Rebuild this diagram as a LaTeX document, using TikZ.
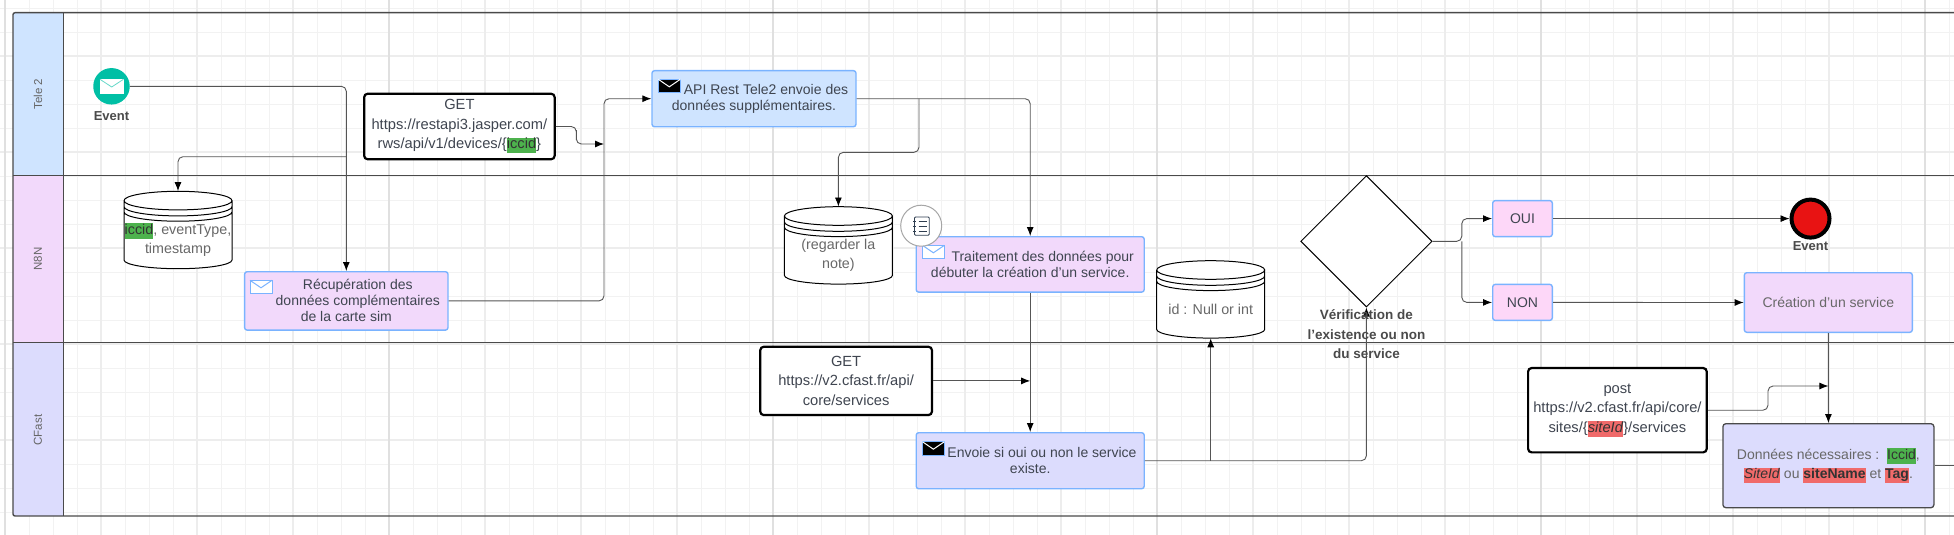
\documentclass[tikz,border=0pt]{standalone}
\usepackage{fontspec}
\setmainfont{Liberation Sans}
\usetikzlibrary{arrows.meta,shapes.geometric}

\definecolor{teleblue}{HTML}{CFE4FF}
\definecolor{nlilac}{HTML}{F2D9FB}
\definecolor{cfastblue}{HTML}{DCDCFD}
\definecolor{yesnopink}{HTML}{FDD7F8}
\definecolor{edgeblue}{HTML}{7AB3FF}
\definecolor{lanegrey}{HTML}{4A4A4A}
\definecolor{flowgrey}{HTML}{555555}
\definecolor{textgrey}{HTML}{3F4550}
\definecolor{softgrey}{HTML}{686868}
\definecolor{hlgreen}{HTML}{4DB24D}
\definecolor{hlred}{HTML}{F06A6A}
\definecolor{startteal}{HTML}{00BFA5}
\definecolor{endred}{HTML}{E81313}
\definecolor{noteink}{HTML}{2F3E50}

\tikzset{
  lanelabel/.style={rotate=90,text=lanegrey!85,font=\fontsize{11.5}{13}\selectfont},
  stepbox/.style={draw=edgeblue,line width=1.4pt,rounded corners=2.5pt,inner sep=0pt,align=center,
    text=textgrey,font=\fontsize{14}{16}\selectfont},
  callbox/.style={draw=black,fill=white,line width=2.2pt,rounded corners=3.5pt,inner sep=0pt,align=center,
    text=textgrey,font=\fontsize{14.7}{19.4}\selectfont},
  storebody/.style={inner sep=0pt,minimum width=108pt,minimum height=77.4pt},
  storetext/.style={inner sep=0pt,align=center,text=softgrey,font=\fontsize{14.3}{19.4}\selectfont},
  eventlabel/.style={inner sep=0pt,text=lanegrey,font=\bfseries\fontsize{13}{15}\selectfont},
  flow/.style={draw=flowgrey,line width=0.9pt,rounded corners=5pt,-{Latex[length=9pt,width=7pt,color=black]}},
  plainflow/.style={draw=flowgrey,line width=0.9pt,rounded corners=5pt},
  laneline/.style={draw=lanegrey,line width=1.4pt}
}

\newcommand{\hlgreen}[1]{{\setlength{\fboxsep}{0pt}\colorbox{hlgreen}{\vrule height 11pt depth 4.5pt width 0pt\textcolor{black!80}{#1}}}}
\newcommand{\hlred}[1]{{\setlength{\fboxsep}{0pt}\colorbox{hlred}{\vrule height 11pt depth 4.5pt width 0pt\textcolor{black!80}{#1}}}}
% x, y, body, flap, border
\newcommand{\mailicon}[5]{
  \draw[draw=#5,fill=#3,line width=1pt] (#1,#2) rectangle ++(22,13.3);
  \draw[draw=#4,line width=1pt] (#1,#2) -- ++(11,7.5) -- ++(11,-7.5);
}
% name, centre x, top y, text
\newcommand{\datastore}[4]{
  \fill[white] (#2-54,#3+9.3) arc[start angle=180,end angle=0,x radius=54pt,y radius=9.3pt]
    -- (#2+54,#3+68.7) arc[start angle=0,end angle=-180,x radius=54pt,y radius=8.7pt] -- cycle;
  \draw[black,line width=1pt] (#2-54,#3+9.3) arc[start angle=180,end angle=-180,x radius=54pt,y radius=9.3pt]
    (#2-54,#3+15.3) arc[start angle=180,end angle=360,x radius=54pt,y radius=9.3pt]
    (#2-54,#3+20.6) arc[start angle=180,end angle=360,x radius=54pt,y radius=9.3pt]
    (#2-54,#3+9.3) -- (#2-54,#3+68.7) arc[start angle=180,end angle=360,x radius=54pt,y radius=8.7pt] -- (#2+54,#3+9.3);
  \node[storebody] (#1) at (#2,#3+38.7) {};
  \node[storetext] (#1Text) at (#2,#3+48.5) {#4};
}

\begin{document}
\begin{tikzpicture}[x=1pt,y=-1pt]
  \useasboundingbox (0,0) rectangle (1954,535);

  % grid
  \foreach \gx in {0,...,81} \draw[black!5,line width=0.8pt] (5+24*\gx,0) -- (5+24*\gx,535);
  \foreach \gy in {0,...,22} \draw[black!5,line width=0.8pt] (0,8+24*\gy) -- (1954,8+24*\gy);
  \foreach \gx in {0,...,20} \draw[black!7,line width=1.1pt] (5+96*\gx,0) -- (5+96*\gx,535);
  \foreach \gy in {0,...,5} \draw[black!7,line width=1.1pt] (0,56+96*\gy) -- (1954,56+96*\gy);
  \foreach \gx in {0,...,5} \draw[black!12,line width=1.6pt] (5+384*\gx,0) -- (5+384*\gx,535);

  % lanes
  \fill[teleblue] (13,12.7) rectangle (63.4,175.7);
  \fill[nlilac] (13,175.7) rectangle (63.4,342.3);
  \fill[cfastblue] (13,342.3) rectangle (63.4,516);
  \draw[laneline,rounded corners=2pt] (1954,12.7) -- (13,12.7) -- (13,516) -- (1954,516);
  \draw[laneline] (63.4,12.7) -- (63.4,516);
  \draw[laneline] (13,175.7) -- (1954,175.7);
  \draw[laneline] (13,342.3) -- (1954,342.3);
  \node[lanelabel] (laneTele) at (38,94) {Tele 2};
  \node[lanelabel] (laneNeN) at (38,259) {N8N};
  \node[lanelabel] (laneCfast) at (38,430) {CFast};

  % tele 2
  \node[circle,fill=startteal,minimum size=36.5pt,inner sep=0pt] (start) at (111.5,86.3) {};
  \node[eventlabel] (startLabel) at (111.5,116) {Event};
  \node[callbox,minimum width=190.5pt,minimum height=65.5pt] (getTele) at (459.4,126.5)
    {GET\\https://restapi3.jasper.com/\\rws/api/v1/devices/\{\hlgreen{iccid}\}};
  \node[stepbox,fill=teleblue,minimum width=204pt,minimum height=56pt] (api) at (754,98.7)
    {\hspace*{24pt}API Rest Tele2 envoie des\\données supplémentaires.};

  % n8n
  \datastore{storeEvent}{178}{191.3}{\hlgreen{iccid}, eventType,\\timestamp}
  \node[stepbox,fill=nlilac,minimum width=203.4pt,minimum height=58.4pt] (recup) at (346.3,300.9)
    {\hspace*{23pt}Récupération des\\\hspace*{23pt}données complémentaires\\de la carte sim};
  \datastore{storeNote}{838.4}{206.7}{(regarder la\\note)}
  \node[stepbox,fill=nlilac,minimum width=228pt,minimum height=55.4pt] (traitement) at (1030.2,264.4)
    {\hspace*{25pt}Traitement des données pour\\débuter la création d'un service.};
  \datastore{storeId}{1210.7}{260.7}{id : Null or int}
  \node[diamond,draw=black,fill=white,line width=1pt,aspect=1,minimum size=131.4pt,inner sep=0pt] (verif) at (1366.4,241.3) {};
  \node[stepbox,fill=yesnopink,minimum width=59.6pt,minimum height=36pt] (oui) at (1522.5,218.6) {OUI};
  \node[stepbox,fill=yesnopink,minimum width=59.6pt,minimum height=36pt] (non) at (1522.5,302.4) {NON};
  \node[circle,draw=black,fill=endred,line width=4pt,minimum size=38pt,inner sep=0pt] (stop) at (1810.5,218.6) {};
  \node[eventlabel] (stopLabel) at (1810.5,246.3) {Event};
  \node[stepbox,fill=nlilac,minimum width=168pt,minimum height=59.6pt,text=softgrey] (creation) at (1828.3,302.5) {Création d'un service};

  % cfast
  \node[callbox,minimum width=171.7pt,minimum height=68.3pt] (getCfast) at (846.1,380.9)
    {GET\\https://v2.cfast.fr/api/\\core/services};
  \node[stepbox,fill=cfastblue,minimum width=228pt,minimum height=56pt] (envoie) at (1030.2,460.7)
    {\hspace*{23.6pt}Envoie si oui ou non le service\\existe.};
  \node[callbox,minimum width=178.6pt,minimum height=84.3pt] (post) at (1617.4,410.2)
    {post\\https://v2.cfast.fr/api/core/\\sites/\{\hlred{\textit{siteId}}\}/services};
  \node[draw=lanegrey,fill=cfastblue,line width=1.3pt,rounded corners=3pt,minimum width=211pt,minimum height=84pt,
    inner sep=0pt,align=center,text=softgrey,font=\fontsize{14}{19.4}\selectfont] (donnees) at (1828.4,465.7)
    {Données nécessaires :\ \ \hlgreen{Iccid},\\\hlred{\textit{SiteId}} ou \hlred{\textbf{siteName}} et \hlred{\textbf{Tag}}.};

  % free ends and junctions
  \coordinate (branchStore) at (346.2,156.7);
  \coordinate (mergeApi) at (604,144);
  \coordinate (bendGet) at (576.3,135);
  \coordinate (bendNote) at (919,152.3);
  \coordinate (split) at (1461.8,241.3);
  \coordinate (bendPost) at (1768,398);
  \coordinate (mergePost) at (1828.4,386);
  \coordinate (outRight) at (1954,465.7);

  % flows
  \draw[flow] (start.east) -| (recup.north);
  \draw[flow] (branchStore) -| (storeEvent.north);
  \draw[flow] (getTele.east) -| (bendGet) |- (mergeApi);
  \draw[flow] (recup.east) -| (mergeApi) |- (api.west);
  \draw[flow] (api.east) -| (traitement.north);
  \draw[flow] (api.east -| bendNote) -- (bendNote) -| (storeNote.north);
  \draw[flow] (traitement.south) -- (envoie.north);
  \draw[flow] (getCfast.east) -- (getCfast.east -| traitement.south);
  \draw[flow] (envoie.east) -| (verif.south);
  \draw[flow] (storeId.south |- envoie.east) -- (storeId.south);
  \draw[flow] (verif.east) -- (split) |- (oui.west);
  \draw[flow] (split) |- (non.west);
  \draw[flow] (oui.east) -- (stop.west);
  \draw[flow] (non.east) -- (creation.west);
  \draw[flow] (creation.south) -- (donnees.north);
  \draw[flow] (post.east) -| (bendPost) |- (mergePost);
  \draw[plainflow] (donnees.east) -- (outRight);

  % icons and note on top
  \draw[white,fill=white] (100,79.3) rectangle (123.5,93.3);
  \draw[startteal!60!white,line width=0.8pt] (100,79.3) -- (111.7,87) -- (123.5,79.3);
  \mailicon{250}{280.3}{white}{edgeblue}{edgeblue}
  \mailicon{658.3}{79.3}{black}{white}{edgeblue}
  \mailicon{922.4}{245.3}{white}{edgeblue}{edgeblue}
  \mailicon{922.4}{441.7}{black}{white}{edgeblue}

  \node[circle,draw=black!35,fill=white,line width=1pt,minimum size=41pt,inner sep=0pt] (note) at (921.2,225.7) {};
  \draw[noteink,line width=0.9pt,rounded corners=1pt] (914.5,217) rectangle (929.2,235.2);
  \foreach \ny in {221,226,231} {
    \draw[noteink,line width=0.9pt] (912.8,\ny) -- (916.2,\ny);
    \draw[noteink,line width=0.9pt] (918.5,\ny) -- (926.5,\ny);
  }

  \node[eventlabel,align=center,font=\bfseries\fontsize{13.5}{19.5}\selectfont] (verifLabel) at (1366.4,334.6)
    {Vérification de\\l'existence ou non\\du service};
\end{tikzpicture}
\end{document}
